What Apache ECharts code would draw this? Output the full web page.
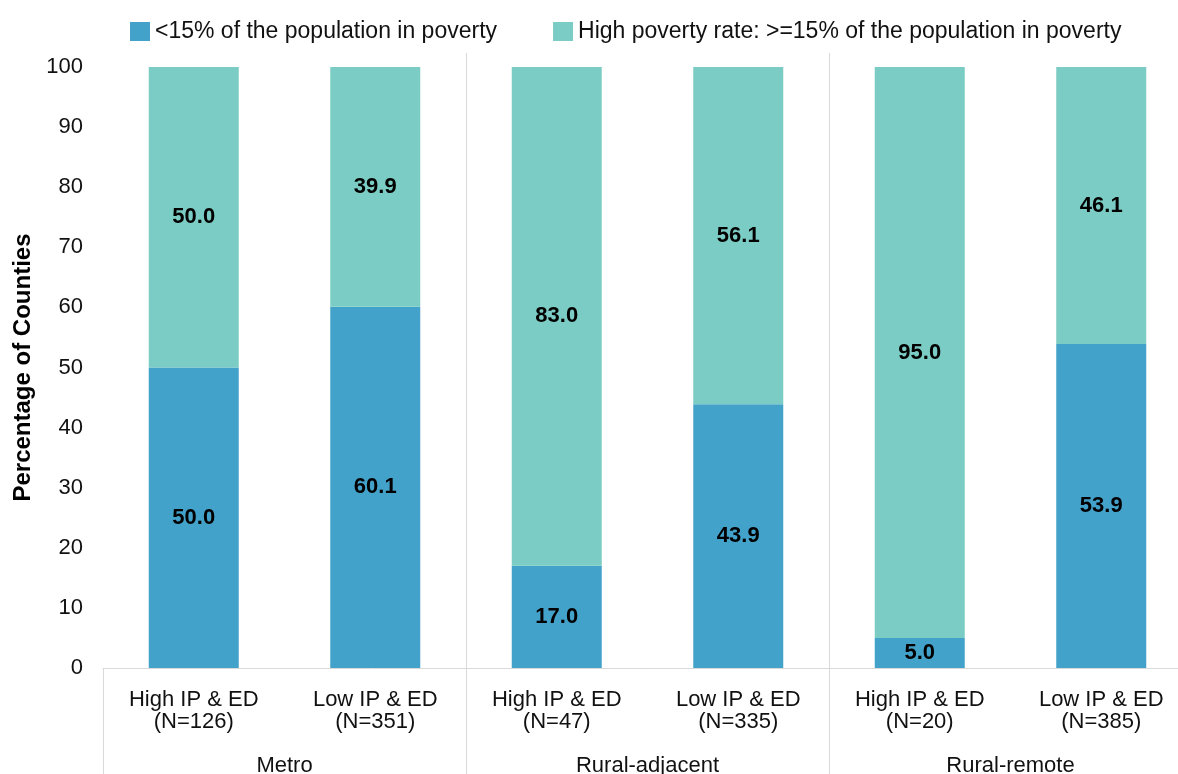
<!DOCTYPE html>
<html>
<head>
<meta charset="utf-8">
<script src="https://cdn.jsdelivr.net/npm/echarts@6/dist/echarts.min.js"></script>
<style>
  html, body { margin: 0; padding: 0; background: #fff; }
  #main { width: 1178px; height: 774px; }
</style>
</head>
<body>
<div id="main"></div>
<script>
// chart data
const categories = [
  'High IP & ED\n(N=126)', 'Low IP & ED\n(N=351)',
  'High IP & ED\n(N=47)', 'Low IP & ED\n(N=335)',
  'High IP & ED\n(N=20)', 'Low IP & ED\n(N=385)'
]
const groups = ['Metro', 'Rural-adjacent', 'Rural-remote']
const lowPovertyName = '<15% of the population in poverty'
const highPovertyName = 'High poverty rate: >=15% of the population in poverty'
const lowPoverty = [50.0, 60.1, 17.0, 43.9, 5.0, 53.9]
const highPoverty = [50.0, 39.9, 83.0, 56.1, 95.0, 46.1]

const font = 'Liberation Sans, Arial, sans-serif'
const lineColor = '#d9d9d9'

const chart = echarts.init(document.getElementById('main'))

const barLabel = {
  show: true,
  position: 'inside',
  fontFamily: font,
  fontSize: 22,
  fontWeight: 'bold',
  color: '#000',
  formatter: p => p.value.toFixed(1)
}

chart.setOption({
  animation: false,
  legend: {
    top: 15,
    left: 125,
    icon: 'rect',
    itemWidth: 20,
    itemHeight: 19,
    itemGap: 56,
    textStyle: { fontFamily: font, fontSize: 23, color: '#111' },
    data: [lowPovertyName, highPovertyName]
  },
  grid: {
    left: 103,
    right: -14,
    top: 67,
    bottom: 106,
    containLabel: false,
    outerBoundsMode: 'none'
  },
  xAxis: [
    {
      type: 'category',
      data: categories,
      axisLine: { lineStyle: { color: lineColor, width: 1 } },
      axisTick: { show: false },
      axisLabel: {
        interval: 0,
        margin: 21,
        fontFamily: font,
        fontSize: 22,
        lineHeight: 22,
        color: '#111'
      }
    },
    { // group labels and separators below the axis
      type: 'category',
      data: groups,
      position: 'bottom',
      axisLine: { show: false },
      axisTick: {
        show: true,
        interval: 0,
        length: 110,
        lineStyle: { color: lineColor }
      },
      axisLabel: {
        interval: 0,
        margin: 87,
        fontFamily: font,
        fontSize: 22,
        lineHeight: 22,
        color: '#111'
      }
    },
    { // separators inside the plot
      type: 'category',
      data: groups,
      position: 'bottom',
      axisLine: { show: false },
      axisTick: {
        show: true,
        inside: true,
        length: 615,
        interval: (i) => i > 0,
        lineStyle: { color: lineColor }
      },
      axisLabel: { show: false }
    }
  ],
  yAxis: {
    type: 'value',
    min: 0,
    max: 100,
    interval: 10,
    name: 'Percentage of Counties',
    nameLocation: 'middle',
    nameGap: 68,
    nameTextStyle: {
      fontFamily: font,
      fontSize: 24,
      fontWeight: 'bold',
      color: '#000'
    },
    axisLine: { show: false },
    axisTick: { show: false },
    splitLine: { show: false },
    axisLabel: {
      margin: 20,
      fontFamily: font,
      fontSize: 22,
      color: '#111'
    }
  },
  series: [
    {
      name: lowPovertyName,
      type: 'bar',
      stack: 'total',
      barWidth: 90,
      itemStyle: { color: '#43a2ca' },
      label: barLabel,
      data: lowPoverty
    },
    {
      name: highPovertyName,
      type: 'bar',
      stack: 'total',
      barWidth: 90,
      itemStyle: { color: '#7bccc4' },
      label: barLabel,
      data: highPoverty
    }
  ]
})
</script>
</body>
</html>
